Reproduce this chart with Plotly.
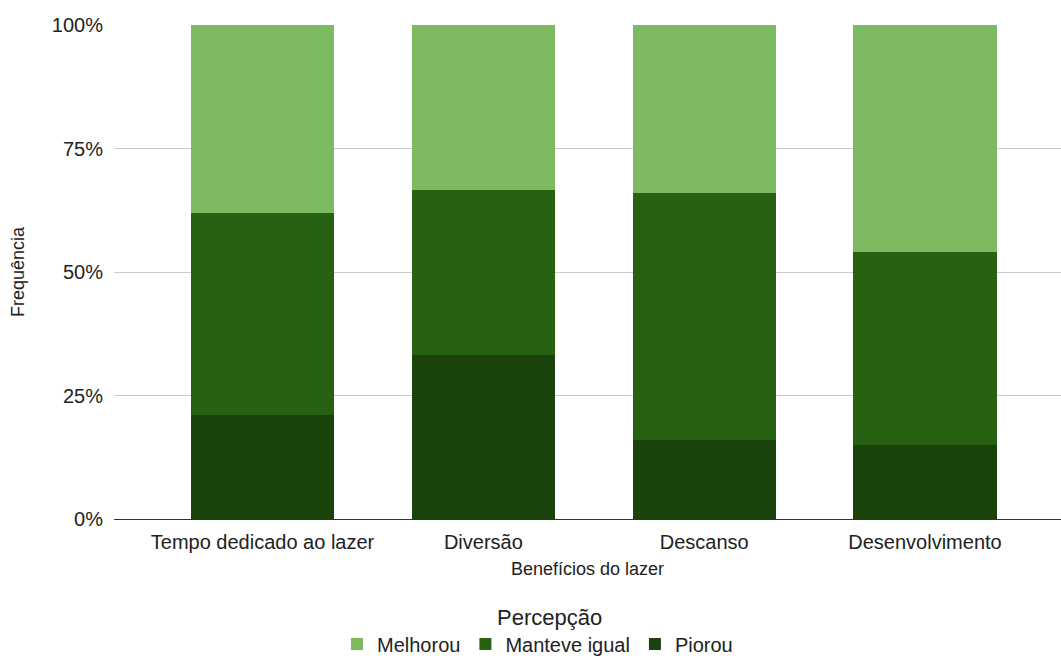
import plotly.graph_objects as go

# Benefícios do lazer: percepção por categoria (percentual)
categorias = ["Tempo dedicado ao lazer", "Diversão", "Descanso", "Desenvolvimento"]
piorou = [21, 33.3, 16, 15]
manteve_igual = [41, 33.3, 50, 39]
melhorou = [38, 33.4, 34, 46]

cores = {"Melhorou": "#7cbb61", "Manteve igual": "#266212", "Piorou": "#1a430b"}
fonte = "Liberation Sans, Arial, sans-serif"

fig = go.Figure()
for nome, valores, rank in [("Piorou", piorou, 3), ("Manteve igual", manteve_igual, 2), ("Melhorou", melhorou, 1)]:
    fig.add_trace(go.Bar(
        x=list(range(len(categorias))), y=valores, name=nome,
        marker=dict(color=cores[nome], line=dict(width=0)),
        width=0.648, legendrank=rank,
        hovertemplate="%{y}%<extra>" + nome + "</extra>",
    ))

fig.update_layout(
    barmode="stack",
    width=1061, height=656,
    margin=dict(l=114, r=0, t=25, b=137, autoexpand=False),
    paper_bgcolor="white", plot_bgcolor="white",
    font=dict(family=fonte, color="#222222"),
    xaxis=dict(
        range=[-0.6726, 3.616],
        tickmode="array", tickvals=list(range(len(categorias))), ticktext=categorias,
        tickfont=dict(size=20, color="#222222"),
        showgrid=False, zeroline=False,
        ticks="outside", ticklen=5, tickcolor="rgba(0,0,0,0)",
        title=dict(text="Benefícios do lazer", font=dict(size=18, color="#222222"), standoff=10),
    ),
    yaxis=dict(
        range=[0, 100],
        tickvals=[0, 25, 50, 75, 100], ticktext=["0%", "25%", "50%", "75%", "100%"],
        tickfont=dict(size=20, color="#222222"),
        gridcolor="#cccccc", gridwidth=1,
        zeroline=True, zerolinecolor="#333333", zerolinewidth=1,
        ticks="outside", ticklen=6, tickcolor="rgba(0,0,0,0)",
        title=dict(text="Frequência", font=dict(size=18, color="#222222"), standoff=22),
    ),
    legend=dict(
        orientation="h", xref="container", x=537.5 / 1061, xanchor="center",
        yref="container", y=12 / 656, yanchor="middle",
        font=dict(size=20, color="#222222"), traceorder="normal",
        itemwidth=30,
    ),
    annotations=[dict(
        text="Percepção", x=(549 - 114) / 947, xref="paper", y=-98 / 494, yref="paper",
        xanchor="center", yanchor="middle", showarrow=False,
        font=dict(size=22, color="#222222"),
    )],
)

fig.write_html("out.html")
